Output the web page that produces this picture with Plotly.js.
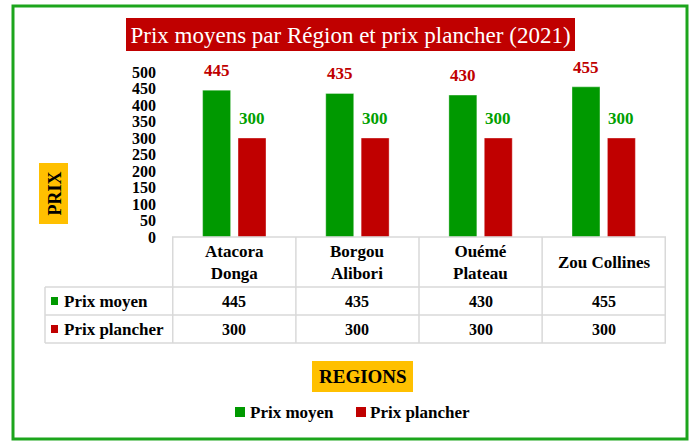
<!DOCTYPE html>
<html><head><meta charset="utf-8">
<script src="https://cdn.plot.ly/plotly-3.0.1.min.js"></script>
<style>html,body{margin:0;padding:0;background:#fff}#chart{width:692px;height:441px}</style>
</head><body><div id="chart"></div>
<script>
// ---- data ----
const regions = ['Atacora Donga', 'Borgou Alibori', 'Ouémé Plateau', 'Zou Collines'];
const regionLabels = ['Atacora<br>Donga', 'Borgou<br>Alibori', 'Ouémé<br>Plateau', 'Zou Collines'];
const seriesNames = ['Prix moyen', 'Prix plancher'];
const prixMoyen = [445, 435, 430, 455];
const prixPlancher = [300, 300, 300, 300];
const yTicks = [0, 50, 100, 150, 200, 250, 300, 350, 400, 450, 500];
const chartTitle = 'Prix moyens par Région et prix plancher (2021)';
const yTitle = 'PRIX';
const xTitle = 'REGIONS';

// ---- style ----
const FONT = 'Liberation Serif, DejaVu Serif, serif';
const barColors = ['#009900', '#C00000'];
const labelColors = ['#C00000', '#00A000'];
const W = 692, H = 441, ML = 172, MR = 26, MT = 72, MB = 204;
const PW = W - ML - MR, PH = H - MT - MB;
const px = x => (x - ML) / PW;
const py = y => (H - MB - y) / PH;
const BARGAP = 0.425, GROUPGAP = 0.21;
const slot = (PW / regions.length) * (1 - BARGAP) / 2;
const series = [prixMoyen, prixPlancher];

const traces = series.map((vals, i) => ({
  type: 'bar', name: seriesNames[i], x: regions, y: vals,
  marker: {color: barColors[i], line: {color: 'rgba(255,255,255,0.35)', width: 1}},
  cliponaxis: false, hoverinfo: 'x+y+name'
}));

const ann = [];
const shapes = [];
const bold = (size, color) => ({family: FONT, size: size, color: color || '#000', weight: 'bold'});

// data labels above bars
series.forEach((vals, i) => {
  vals.forEach((v, j) => {
    ann.push({xref: 'x', yref: 'y', x: regions[j], y: v, text: String(v), showarrow: false,
      xshift: (i === 0 ? -1 : 1) * slot / 2, yshift: 8, yanchor: 'bottom', font: bold(17, labelColors[i])});
  });
});

// data table
const lineCol = '#d9d9d9', lw = 1.5;
const yHeadTop = 237, yRow1 = 287, yRow2 = 315, yBot = 343, xLeft = 45;
regions.forEach((r, j) => {
  ann.push({xref: 'x', yref: 'paper', x: r, y: py((yHeadTop + yRow1) / 2), text: regionLabels[j],
    showarrow: false, yanchor: 'middle', font: bold(17)});
  series.forEach((vals, i) => {
    const yc = i === 0 ? (yRow1 + yRow2) / 2 : (yRow2 + yBot) / 2;
    ann.push({xref: 'x', yref: 'paper', x: r, y: py(yc), text: String(vals[j]),
      showarrow: false, yanchor: 'middle', font: bold(16)});
  });
});
for (let k = 0; k <= regions.length; k++) {
  shapes.push({type: 'line', xref: 'x', yref: 'paper', x0: k - 0.5, x1: k - 0.5,
    y0: py(yHeadTop), y1: py(yBot), line: {color: lineCol, width: lw}});
}
shapes.push({type: 'line', xref: 'paper', yref: 'paper', x0: px(xLeft), x1: px(xLeft),
  y0: py(yRow1), y1: py(yBot), line: {color: lineCol, width: lw}});
shapes.push({type: 'line', xref: 'paper', yref: 'paper', x0: 0, x1: 1,
  y0: py(yHeadTop), y1: py(yHeadTop), line: {color: lineCol, width: lw}});
[yRow1, yRow2, yBot].forEach(y => shapes.push({type: 'line', xref: 'paper', yref: 'paper',
  x0: px(xLeft), x1: 1, y0: py(y), y1: py(y), line: {color: lineCol, width: lw}}));
seriesNames.forEach((n, i) => {
  const yc = i === 0 ? (yRow1 + yRow2) / 2 : (yRow2 + yBot) / 2;
  shapes.push({type: 'rect', xref: 'paper', yref: 'paper', x0: px(51), x1: px(58),
    y0: py(yc + 4), y1: py(yc - 4), fillcolor: barColors[i], line: {width: 0}});
  ann.push({xref: 'paper', yref: 'paper', x: px(62), y: py(yc), text: n, showarrow: false,
    xanchor: 'left', yanchor: 'middle', font: bold(17)});
});

// title box
shapes.push({type: 'rect', xref: 'paper', yref: 'paper', x0: px(126), x1: px(575),
  y0: py(51), y1: py(18), fillcolor: '#C00000', line: {width: 0}, layer: 'above'});
// PRIX box
shapes.push({type: 'rect', xref: 'paper', yref: 'paper', x0: px(39), x1: px(68),
  y0: py(224), y1: py(163), fillcolor: '#FFC000', line: {width: 0}});
ann.push({xref: 'paper', yref: 'paper', x: px(54), y: py(193.5), text: yTitle, textangle: -90,
  showarrow: false, xanchor: 'center', yanchor: 'middle', font: bold(18)});
// REGIONS box
shapes.push({type: 'rect', xref: 'paper', yref: 'paper', x0: px(312), x1: px(413),
  y0: py(392), y1: py(361), fillcolor: '#FFC000', line: {width: 0}});
ann.push({xref: 'paper', yref: 'paper', x: px(362.5), y: py(376.5), text: xTitle,
  showarrow: false, xanchor: 'center', yanchor: 'middle', font: bold(19)});
// bottom legend
const legX = [[235, 248], [356, 368]];
seriesNames.forEach((n, i) => {
  shapes.push({type: 'rect', xref: 'paper', yref: 'paper', x0: px(legX[i][0]), x1: px(legX[i][0] + 10),
    y0: py(417), y1: py(407), fillcolor: barColors[i], line: {width: 0}});
  ann.push({xref: 'paper', yref: 'paper', x: px(legX[i][1]), y: py(412), text: n, showarrow: false,
    xanchor: 'left', yanchor: 'middle', font: bold(17)});
});
// outer border
shapes.push({type: 'rect', xref: 'paper', yref: 'paper', x0: px(13), x1: px(687),
  y0: py(439), y1: py(6), line: {color: '#1ca51c', width: 3}, fillcolor: 'rgba(0,0,0,0)'});

const layout = {
  width: W, height: H,
  margin: {l: ML, r: MR, t: MT, b: MB, pad: 0},
  paper_bgcolor: '#fff', plot_bgcolor: '#fff',
  font: {family: FONT, color: '#000'},
  title: {text: chartTitle, font: {family: FONT, size: 23, color: '#fff'},
    xref: 'container', yref: 'container', x: 350.5 / W, xanchor: 'center', y: 1 - 35 / H, yanchor: 'middle'},
  barmode: 'group', bargap: BARGAP, bargroupgap: GROUPGAP,
  showlegend: false,
  xaxis: {type: 'category', showticklabels: false, showgrid: false, zeroline: false, showline: false, ticks: ''},
  yaxis: {range: [0, 500], tickvals: yTicks, showgrid: false, zeroline: false, showline: false, ticks: '',
    tickfont: bold(16), ticklabelstandoff: 15},
  shapes: shapes, annotations: ann
};
Plotly.newPlot('chart', traces, layout, {displayModeBar: false, staticPlot: true});
</script></body></html>
